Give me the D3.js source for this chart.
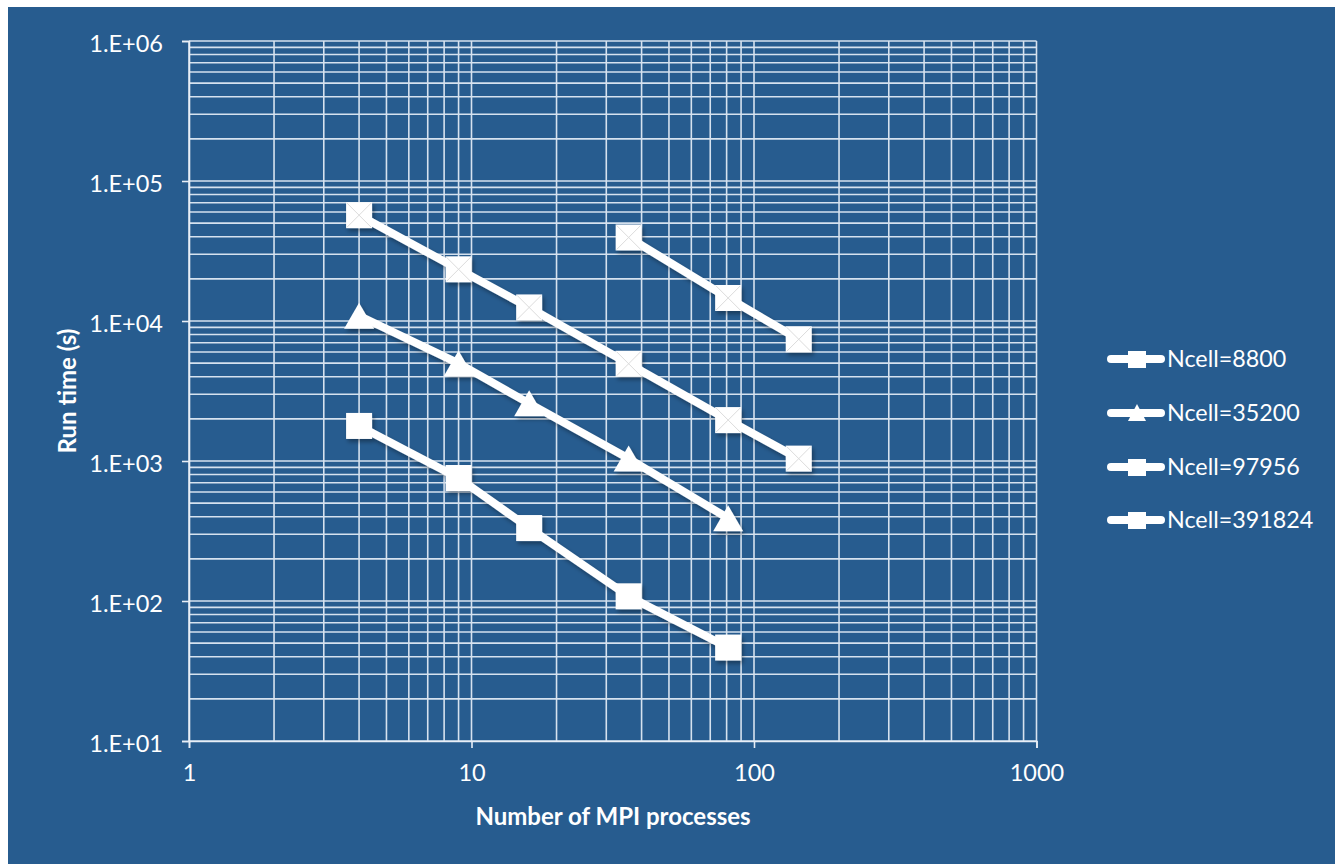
<!DOCTYPE html>
<html>
<head>
<meta charset="utf-8">
<script src="https://cdn.jsdelivr.net/npm/d3@7"></script>
<style>
  html, body { margin: 0; padding: 0; background: #ffffff; }
  svg { display: block; }
  text { font-family: "Lato", "Open Sans", sans-serif; fill: #ffffff; }
</style>
</head>
<body>
<svg id="chart" width="1335" height="864"></svg>
<script>
// ---------- data ----------
const seriesNames = ["Ncell=8800", "Ncell=35200", "Ncell=97956", "Ncell=391824"];
const seriesMarkers = ["square", "triangle", "squareX", "squareX"];
const x8800 = [4, 9, 16, 36, 81];
const y8800 = [1780, 756, 332, 108, 46.5];
const x35200 = [4, 9, 16, 36, 81];
const y35200 = [10900, 4980, 2580, 1040, 390];
const x97956 = [4, 9, 16, 36, 81, 144];
const y97956 = [57000, 23400, 12500, 4950, 1960, 1040];
const x391824 = [36, 81, 144];
const y391824 = [39500, 14600, 7400];
const xTicks = [1, 10, 100, 1000];
const yTicks = [10, 100, 1000, 10000, 100000, 1000000];
const yTickLabels = ["1.E+01", "1.E+02", "1.E+03", "1.E+04", "1.E+05", "1.E+06"];
const xTitle = "Number of MPI processes";
const yTitle = "Run time (s)";

const seriesX = [x8800, x35200, x97956, x391824];
const seriesY = [y8800, y35200, y97956, y391824];

// ---------- layout ----------
const svg = d3.select("#chart");
const bg = "#275c8f";
const gridColor = "#d6e2ef";
svg.append("rect").attr("x", 8).attr("y", 7).attr("width", 1327).attr("height", 857).attr("fill", bg);

const x = d3.scaleLog().domain([1, 1000]).range([189, 1036.5]);
const y = d3.scaleLog().domain([10, 1000000]).range([741, 41]);

const defs = svg.append("defs");
const f = defs.append("filter").attr("id", "shadow").attr("x", "-20%").attr("y", "-20%").attr("width", "140%").attr("height", "140%");
f.append("feDropShadow").attr("dx", 2).attr("dy", 3).attr("stdDeviation", 2).attr("flood-color", "#000").attr("flood-opacity", 0.35);

// gridlines
const xGrid = [];
for (let e = 0; e < 3; e++) for (let m = 1; m <= 9; m++) xGrid.push(m * Math.pow(10, e));
xGrid.push(1000);
const yGrid = [];
for (let e = 1; e < 6; e++) for (let m = 1; m <= 9; m++) yGrid.push(m * Math.pow(10, e));
yGrid.push(1000000);

const grid = svg.append("g");
grid.selectAll("line.v").data(xGrid).join("line")
  .attr("x1", d => x(d)).attr("x2", d => x(d))
  .attr("y1", y(1000000)).attr("y2", y(10))
  .attr("stroke", gridColor).attr("stroke-width", 1.6);
grid.selectAll("line.h").data(yGrid).join("line")
  .attr("x1", x(1)).attr("x2", x(1000))
  .attr("y1", d => y(d)).attr("y2", d => y(d))
  .attr("stroke", gridColor).attr("stroke-width", 1.6);

// axes
const yAxis = svg.append("g").attr("transform", `translate(${x(1)},0)`)
  .call(d3.axisLeft(y).tickValues(yTicks).tickSize(7).tickPadding(19)
    .tickFormat((d, i) => yTickLabels[i]));
const xAxis = svg.append("g").attr("transform", `translate(0,${y(10)})`)
  .call(d3.axisBottom(x).tickValues(xTicks).tickSize(7).tickPadding(16)
    .tickFormat(d3.format("d")));
[yAxis, xAxis].forEach(a => {
  a.selectAll("path").attr("stroke", "#e8eef6").attr("stroke-width", 1.6);
  a.selectAll("line").attr("stroke", "#e8eef6").attr("stroke-width", 1.6);
  a.selectAll("text").attr("fill", "#ffffff").style("font-size", "23.5px")
    .style("font-family", "Lato, 'Open Sans', sans-serif");
});
yAxis.selectAll("text").attr("dy", "0.45em");

// titles
svg.append("text").attr("x", 613).attr("y", 825).attr("text-anchor", "middle")
  .style("font-size", "24px").style("font-weight", "bold").text(xTitle);
svg.append("text").attr("transform", "translate(76,391) rotate(-90)").attr("text-anchor", "middle")
  .style("font-size", "24px").style("font-weight", "bold").text(yTitle);

// markers
function drawMarker(g, type, cx, cy, s) {
  if (type === "triangle") {
    const h = s;
    g.append("path")
      .attr("d", `M${cx},${cy - h / 2} L${cx + s / 2 + 2},${cy + h / 2} L${cx - s / 2 - 2},${cy + h / 2} Z`)
      .attr("fill", "#ffffff");
  } else {
    g.append("rect").attr("x", cx - s / 2).attr("y", cy - s / 2).attr("width", s).attr("height", s).attr("fill", "#ffffff");
    if (type === "squareX") {
      const k = s / 2 - 1;
      g.append("path")
        .attr("d", `M${cx - k},${cy - k} L${cx + k},${cy + k} M${cx + k},${cy - k} L${cx - k},${cy + k}`)
        .attr("stroke", "#dcdcdc").attr("stroke-width", 1).attr("fill", "none");
    }
  }
}

const line = d3.line().x(d => x(d[0])).y(d => y(d[1]));
const plot = svg.append("g").attr("filter", "url(#shadow)");
seriesX.forEach((xs, i) => {
  const pts = xs.map((v, j) => [v, seriesY[i][j]]);
  const g = plot.append("g");
  g.append("path").datum(pts).attr("d", line)
    .attr("fill", "none").attr("stroke", "#ffffff").attr("stroke-width", 8)
    .attr("stroke-linejoin", "round");
  pts.forEach(p => drawMarker(g, seriesMarkers[i], x(p[0]), y(p[1]), 26));
});

// legend
const legY = [359, 413, 467, 520];
const leg = svg.append("g");
seriesNames.forEach((name, i) => {
  const cy = legY[i];
  leg.append("line").attr("x1", 1111).attr("x2", 1161).attr("y1", cy).attr("y2", cy)
    .attr("stroke", "#ffffff").attr("stroke-width", 8).attr("stroke-linecap", "round");
  if (seriesMarkers[i] === "triangle") {
    leg.append("path").attr("d", `M1137,${cy - 9} L1146,${cy + 8} L1128,${cy + 8} Z`).attr("fill", "#fff");
  } else {
    leg.append("rect").attr("x", 1128).attr("y", cy - 8).attr("width", 18).attr("height", 17).attr("fill", "#fff");
  }
  leg.append("text").attr("x", 1167).attr("y", cy).attr("dy", "0.36em")
    .style("font-size", "23.3px").text(name);
});
</script>
</body>
</html>
